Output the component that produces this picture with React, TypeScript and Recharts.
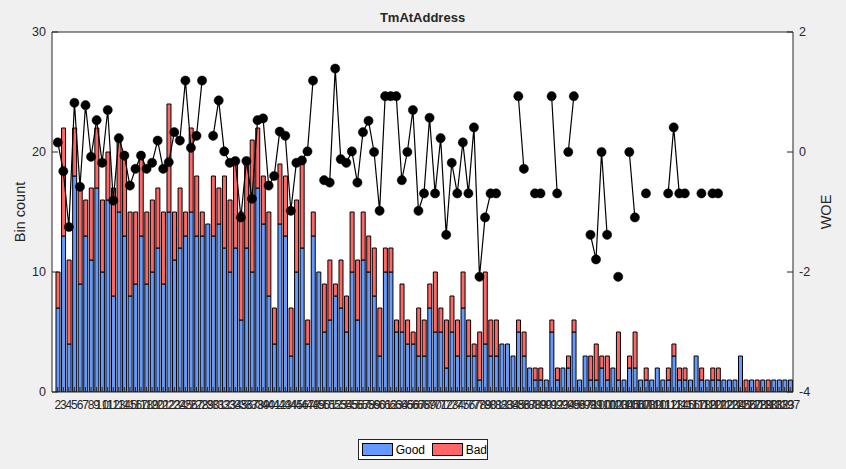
import React from 'react';
import { ComposedChart, Bar, Line, XAxis, YAxis, CartesianGrid, Legend } from 'recharts';

const categories = [
  2, 3, 4, 5, 6, 7, 8, 9, 10, 11, 12, 13, 14, 15, 16, 17, 18, 19, 20, 21,
  22, 23, 24, 25, 26, 27, 28, 29, 30, 31, 32, 33, 34, 35, 36, 37, 38, 39, 40, 41,
  42, 43, 44, 45, 46, 47, 48, 49, 50, 51, 52, 53, 54, 55, 56, 57, 58, 59, 60, 61,
  62, 63, 64, 65, 66, 67, 68, 69, 70, 71, 72, 73, 74, 75, 76, 77, 78, 79, 80, 81,
  82, 83, 84, 85, 86, 87, 88, 89, 90, 91, 92, 93, 94, 95, 96, 97, 98, 99, 100, 101,
  102, 103, 104, 105, 106, 107, 108, 109, 110, 111, 112, 113, 114, 115, 116, 117, 118, 119, 120, 121,
  122, 123, 124, 125, 126, 127, 128, 129, 130, 131, 132, 133, 197,
];

const good = [
  7, 13, 4, 18, 9, 13, 11, 17, 10, 16,
  8, 15, 13, 8, 9, 13, 9, 10, 12, 9,
  15, 11, 12, 13, 15, 13, 13, 14, 13, 14,
  12, 10, 12, 6, 12, 10, 17, 14, 8, 4,
  14, 13, 3, 10, 12, 4, 13, 10, 5, 6,
  8, 7, 5, 10, 6, 11, 10, 8, 3, 10,
  10, 5, 5, 4, 4, 3, 3, 7, 5, 5,
  2, 5, 3, 7, 3, 3, 1, 4, 3, 3,
  4, 4, 3, 5, 3, 2, 1, 1, 1, 5,
  1, 2, 2, 5, 1, 3, 1, 1, 2, 1,
  2, 1, 1, 2, 2, 1, 1, 1, 2, 1,
  1, 3, 1, 1, 1, 3, 1, 1, 1, 1,
  1, 1, 1, 3, 0, 1, 0, 1, 0, 1,
  1, 1, 1,
];

const bad = [
  3, 9, 7, 4, 8, 3, 6, 5, 6, 4,
  9, 6, 7, 7, 6, 7, 6, 6, 5, 6,
  9, 4, 5, 2, 7, 5, 2, 0, 5, 3,
  6, 6, 7, 9, 7, 11, 5, 4, 7, 3,
  5, 5, 4, 6, 7, 2, 2, 0, 4, 5,
  1, 4, 3, 5, 5, 4, 3, 4, 4, 2,
  2, 1, 4, 2, 1, 4, 3, 2, 5, 2,
  4, 3, 3, 3, 3, 1, 4, 6, 3, 3,
  0, 0, 0, 1, 2, 0, 1, 1, 0, 1,
  1, 0, 1, 1, 0, 0, 2, 3, 1, 2,
  0, 4, 0, 1, 3, 0, 1, 0, 0, 0,
  1, 1, 1, 1, 0, 0, 1, 0, 1, 1,
  0, 0, 0, 0, 1, 0, 1, 0, 1, 0,
  0, 0, 0,
];

const woe: (number | null)[] = [
  0.16, -0.32, -1.25, 0.82, -0.58, 0.78, -0.08, 0.53, -0.18, 0.7,
  -0.81, 0.23, -0.06, -0.56, -0.28, -0.06, -0.28, -0.18, 0.19, -0.28,
  -0.17, 0.33, 0.19, 1.19, 0.07, 0.27, 1.19, null, 0.27, 0.86,
  0.01, -0.18, -0.15, -1.09, -0.15, -0.78, 0.53, 0.56, -0.56, -0.4,
  0.34, 0.27, -0.98, -0.18, -0.14, 0.01, 1.19, null, -0.47, -0.51,
  1.39, -0.12, -0.18, 0.01, -0.51, 0.33, 0.52, 0.0, -0.98, 0.93,
  0.93, 0.93, -0.47, 0.0, 0.7, -0.98, -0.69, 0.57, -0.69, 0.23,
  -1.38, -0.18, -0.69, 0.16, -0.69, 0.41, -2.08, -1.09, -0.69, -0.69,
  null, null, null, 0.93, -0.28, null, -0.69, -0.69, null, 0.93,
  -0.69, null, 0.0, 0.93, null, null, -1.38, -1.79, 0.0, -1.38,
  null, -2.08, null, 0.0, -1.09, null, -0.69, null, null, null,
  -0.69, 0.41, -0.69, -0.69, null, null, -0.69, null, -0.69, -0.69,
  null, null, null, null, null, null, null, null, null, null,
  null, null, null,
];

const leftTicks = [0, 10, 20, 30];
const rightTicks = [-4, -2, 0, 2];
const legendOrder = ['Good', 'Bad'];

const data = categories.map((c, i) => ({
  cat: String(c),
  good: good[i],
  bad: bad[i],
  woe: woe[i],
}));

const FONT = '"Liberation Sans", Arial, Helvetica, sans-serif';
const TXT = '#262626';
const AX = '#262626';
const GOOD = '#6699ff';
const BAD = '#ff6666';

const TitleLabel = (props: any) => {
  const vb = props.viewBox || {};
  const cx = vb.x + vb.width / 2;
  return (
    <text x={cx} y={vb.y - 5} textAnchor="middle" fontWeight="bold" fontSize={13} fill={TXT} fontFamily={FONT}>
      {props.value}
    </text>
  );
};

const YLabel = (props: any) => {
  const vb = props.viewBox || {};
  const cx = vb.x + props.dx0;
  const cy = vb.y + vb.height / 2;
  return (
    <text x={cx} y={cy} transform={`rotate(-90 ${cx} ${cy})`} textAnchor="middle" fontSize={14.5} fill={TXT} fontFamily={FONT}>
      {props.value}
    </text>
  );
};

const LegendBox = (props: any) => {
  const items = (props.payload || [])
    .filter((p: any) => p.type !== 'none' && legendOrder.includes(p.value))
    .sort((a: any, b: any) => legendOrder.indexOf(a.value) - legendOrder.indexOf(b.value));
  return (
    <div
      style={{
        width: 130,
        height: 21,
        boxSizing: 'border-box',
        border: `1px solid ${AX}`,
        background: '#fff',
        display: 'flex',
        alignItems: 'center',
        fontFamily: FONT,
        fontSize: 12,
        color: '#000',
      }}
    >
      {items.map((it: any, idx: number) => (
        <React.Fragment key={it.value}>
          <span
            style={{
              display: 'inline-block',
              marginLeft: idx === 0 ? 3 : 7,
              width: 31,
              height: 13,
              boxSizing: 'border-box',
              background: it.color,
              border: '1px solid #000',
            }}
          />
          <span style={{ marginLeft: 3 }}>{it.value}</span>
        </React.Fragment>
      ))}
    </div>
  );
};

export default function App() {
  return (
    <div
      style={{
        position: 'absolute',
        left: 0,
        top: 0,
        width: 846,
        height: 469,
        background: '#f0f0f0',
        fontFamily: FONT,
      }}
    >
      <ComposedChart
        width={846}
        height={469}
        data={data}
        margin={{ top: 27, right: 13, bottom: 57, left: 12 }}
        barGap={0}
      >
        <CartesianGrid horizontal={false} vertical={false} fill="#ffffff" />
        <XAxis
          xAxisId="x"
          dataKey="cat"
          type="category"
          orientation="bottom"
          height={20}
          interval={0}
          padding={{ left: 3, right: 0 }}
          tickSize={-5}
          tickMargin={13}
          tick={{ fill: TXT, fontSize: 12 }}
          stroke={AX}
          axisLine={{ stroke: AX }}
          tickLine={{ stroke: AX }}
        />
        <XAxis
          xAxisId="top"
          dataKey="cat"
          type="category"
          orientation="top"
          height={5}
          interval={0}
          padding={{ left: 3, right: 0 }}
          tickSize={-5}
          tick={false}
          axisLine={{ stroke: AX }}
          tickLine={{ stroke: AX }}
          label={<TitleLabel value="TmAtAddress" />}
        />
        <YAxis
          yAxisId="l"
          orientation="left"
          width={40}
          domain={[0, 30]}
          ticks={leftTicks}
          type="number"
          allowDataOverflow
          tickSize={-6}
          tickMargin={12}
          tick={{ fill: TXT, fontSize: 12.5 }}
          axisLine={{ stroke: AX }}
          tickLine={{ stroke: AX }}
          label={<YLabel value="Bin count" dx0={13} />}
        />
        <YAxis
          yAxisId="r"
          orientation="right"
          width={40}
          domain={[-4, 2]}
          ticks={rightTicks}
          type="number"
          allowDataOverflow
          tickSize={-6}
          tickMargin={12}
          tick={{ fill: TXT, fontSize: 12.5 }}
          axisLine={{ stroke: AX }}
          tickLine={{ stroke: AX }}
          label={<YLabel value="WOE" dx0={38} />}
        />
        <Bar
          xAxisId="x"
          yAxisId="l"
          dataKey="good"
          name="Good"
          stackId="s"
          fill={GOOD}
          stroke="#000"
          strokeWidth={1}
          barSize={4}
          isAnimationActive={false}
        />
        <Bar
          xAxisId="x"
          yAxisId="l"
          dataKey="bad"
          name="Bad"
          stackId="s"
          fill={BAD}
          stroke="#000"
          strokeWidth={1}
          barSize={4}
          isAnimationActive={false}
        />
        <Line
          xAxisId="x"
          yAxisId="r"
          dataKey="woe"
          name="WOE"
          legendType="none"
          stroke="#000"
          strokeWidth={1.2}
          dot={{ r: 4.6, fill: '#000', stroke: '#000', strokeWidth: 0.5 }}
          activeDot={false}
          connectNulls={false}
          isAnimationActive={false}
        />
        <Legend
          layout="horizontal"
          verticalAlign="middle"
          align="center"
          content={<LegendBox />}
          wrapperStyle={{ left: 358, top: 439, width: 130, height: 21 }}
        />
      </ComposedChart>
    </div>
  );
}
